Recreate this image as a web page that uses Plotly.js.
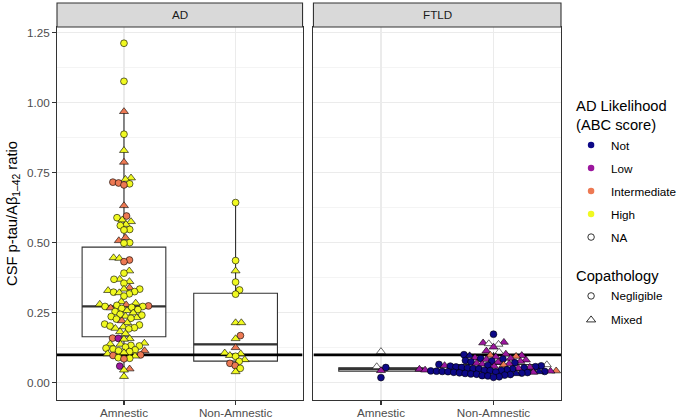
<!DOCTYPE html>
<html>
<head>
<meta charset="utf-8">
<script src="https://cdn.plot.ly/plotly-3.0.1.min.js"></script>
<style>html,body{margin:0;padding:0;background:#fff;}</style>
</head>
<body>
<div id="chart" style="width:684px;height:419px;"></div>
<script>
// ---------- data ----------
const panels = ['AD', 'FTLD'];
const categories = ['Amnestic', 'Non-Amnestic'];
const abcCodes = ['N', 'L', 'I', 'H', 'X'];
const abcLabels = ['Not', 'Low', 'Intermediate', 'High', 'NA'];
const abcColors = ['#0D0887', '#9C179E', '#ED7953', '#F0F921', '#FFFFFF'];
const copathCodes = ['c', 't'];
const copathLabels = ['Negligible', 'Mixed'];
const copathSymbols = ['circle', 'triangle-up'];
const thresholdValue = [0.1];
const yTickVals = [0, 0.25, 0.5, 0.75, 1.0, 1.25];

// AD / Amnestic
const adAmnVal = [1.213,1.077,0.969,0.888,0.830,0.788,0.732,0.727,0.717,0.714,0.711,0.707,0.633,
 0.596,0.590,0.582,0.576,0.566,0.562,0.548,0.546,0.519,0.508,0.501,0.499,0.447,0.445,0.439,0.433,
 0.400,0.392,0.370,0.370,0.362,0.356,0.340,0.335,0.335,0.330,0.326,0.324,0.322,0.318,0.310,
 0.290,0.285,0.281,0.279,0.277,0.275,0.273,0.273,0.270,0.268,0.266,0.262,0.258,0.255,0.250,
 0.245,0.242,0.238,0.237,0.233,0.231,0.228,0.222,0.215,0.210,0.207,0.203,0.200,0.197,0.195,0.193,
 0.183,0.176,0.160,0.159,0.158,0.156,0.142,0.139,0.138,0.134,0.132,0.128,0.124,0.121,0.118,0.115,
 0.115,0.112,0.108,0.104,0.100,0.098,0.096,0.090,0.088,0.086,0.060,0.050,0.046,0.023];
const adAmnAbc = ['H','H','I','H','H','I','H','H','I','I','H','I','I',
 'I','H','H','H','H','H','H','H','I','I','H','H','H','H','I','I',
 'H','H','H','H','H','H','I','H','H','H','H','H','H','H','H',
 'H','H','H','I','H','I','H','H','H','I','H','H','H','H','H',
 'H','H','H','H','H','H','H','I','H','H','H','H','H','H','H','H',
 'H','H','I','L','H','H','H','H','H','H','H','H','H','H','H','H',
 'I','H','H','H','I','I','H','H','H','I','L','I','H','H'];
const adAmnCop = ['c','c','t','c','t','t','t','t','c','c','c','c','t',
 'c','c','t','t','t','c','c','c','t','t','c','c','t','t','c','c',
 't','c','t','c','t','c','t','t','c','t','c','c','t','c','c',
 't','t','t','t','c','c','c','c','c','t','c','c','t','c','t',
 'c','c','t','c','t','c','c','t','t','c','c','c','t','c','t','c',
 't','t','c','c','t','t','t','t','t','c','c','c','c','c','c','c',
 't','c','t','t','c','c','t','c','c','c','c','t','t','t'];

// AD / Non-Amnestic
const adNonVal = [0.644,0.437,0.400,0.360,0.332,0.317,0.215,0.215,0.169,0.158,0.126,0.107,0.104,
 0.098,0.095,0.083,0.077,0.070,0.062,0.052,0.040];
const adNonAbc = ['H','H','H','H','H','H','H','H','I','H','I','H','H','H','H','H','H','I','I','H','H'];
const adNonCop = ['c','c','t','c','c','c','t','t','c','t','t','t','t','t','c','t','c','c','c','c','t'];

// FTLD / Amnestic
const ftAmnVal = [0.112,0.058,0.055,0.044,0.019];
const ftAmnAbc = ['X','X','N','L','N'];
const ftAmnCop = ['t','t','c','t','c'];

// FTLD / Non-Amnestic
const ftNonVal = [0.174,0.145,0.143,0.140,0.138,0.128,0.114,0.110,0.103,0.101,0.099,0.098,0.097,0.095,
 0.093,0.090,0.088,0.087,0.085,0.084,0.082,0.080,0.078,0.077,0.075,0.074,0.072,0.070,0.068,0.067,
 0.066,0.065,0.064,0.063,0.062,0.061,0.060,0.059,0.058,0.057,0.056,0.055,0.054,0.053,0.052,0.051,
 0.050,0.050,0.049,0.048,0.047,0.047,0.046,0.045,0.045,0.044,0.043,0.043,0.042,0.042,0.041,0.041,
 0.040,0.040,0.039,0.038,0.038,0.037,0.036,0.035,0.034,0.033,0.032,0.031,0.030,0.028,0.026,0.025,
 0.022,0.020];
const ftNonAbc = ['N','L','L','X','X','L','L','X','L','N','I','L','N','I',
 'L','L','L','N','N','L','L','N','N','L','N','L','N','L','L','L',
 'N','X','I','N','L','N','N','L','N','N','L','N','N','N','L','N',
 'N','N','L','N','N','N','L','N','N','N','N','I','N','L','N','N',
 'N','N','N','N','L','N','N','N','N','N','N','N','N','N','N','N',
 'N','N'];
const ftNonCop = ['c','t','t','t','t','t','t','t','t','c','t','t','t','t',
 't','t','t','c','c','t','t','c','c','t','c','t','c','t','t','t',
 'c','t','t','c','t','c','c','t','c','c','t','c','c','c','t','c',
 'c','c','t','c','c','c','t','c','c','c','c','t','c','t','c','c',
 'c','t','c','c','t','c','c','c','c','t','c','c','c','c','c','c',
 'c','c'];

// box statistics per panel/category (AD-Amn, AD-Non, FTLD-Amn, FTLD-Non)
const boxPanel = ['AD', 'AD', 'FTLD', 'FTLD'];
const boxCat = ['Amnestic', 'Non-Amnestic', 'Amnestic', 'Non-Amnestic'];
const boxQ1 = [0.165, 0.078, 0.042, 0.035];
const boxMedian = [0.273, 0.138, 0.050, 0.046];
const boxQ3 = [0.485, 0.320, 0.054, 0.066];
const boxLower = [0.023, 0.040, 0.044, 0.020];
const boxUpper = [0.969, 0.644, 0.058, 0.110];

// ---------- layout constants ----------
const W = 684, H = 419;
const M = {l: 57, r: 118, t: 3, b: 19};
const plotW = W - M.l - M.r, plotH = H - M.t - M.b;
const xDom = [[0, 0.4872], [0.5088, 1]];
const yDom = [0, 0.93955];
const yRange = [-0.061, 1.271];
const xRange = [0.4, 2.6];
const pxPerY = (yDom[1] - yDom[0]) * plotH / (yRange[1] - yRange[0]);
const pxPerX = xDom.map(d => (d[1] - d[0]) * plotW / (xRange[1] - xRange[0]));

// beeswarm offsets (computed in pixel space)
function swarm(vals, xc, ppx, ppy, d) {
  const idx = vals.map((v, i) => i).sort((a, b) => vals[a] - vals[b]);
  const placed = [];
  const out = new Array(vals.length);
  for (const i of idx) {
    const yp = vals[i] * ppy;
    const cands = [0];
    for (const p of placed) {
      const dy = yp - p.yp;
      if (Math.abs(dy) < d) {
        const dx = Math.sqrt(d * d - dy * dy);
        cands.push(p.xp + dx, p.xp - dx);
      }
    }
    cands.sort((a, b) => Math.abs(a) - Math.abs(b));
    let chosen = 0;
    for (const c of cands) {
      let ok = true;
      for (const p of placed) {
        const dx = c - p.xp, dy = yp - p.yp;
        if (dx * dx + dy * dy < d * d - 1e-6) { ok = false; break; }
      }
      if (ok) { chosen = c; break; }
    }
    placed.push({xp: chosen, yp: yp});
    out[i] = xc + chosen / ppx;
  }
  return out;
}

const groups = [
  {panel: 0, cat: 0, v: adAmnVal, a: adAmnAbc, c: adAmnCop},
  {panel: 0, cat: 1, v: adNonVal, a: adNonAbc, c: adNonCop},
  {panel: 1, cat: 0, v: ftAmnVal, a: ftAmnAbc, c: ftAmnCop},
  {panel: 1, cat: 1, v: ftNonVal, a: ftNonAbc, c: ftNonCop}
];

const traces = [];
const axX = ['x', 'x2'], axY = ['y', 'y2'];

// boxes
for (let k = 0; k < boxQ1.length; k++) {
  const p = panels.indexOf(boxPanel[k]);
  const xc = categories.indexOf(boxCat[k]) + 1;
  traces.push({
    type: 'box', x: [xc], q1: [boxQ1[k]], median: [boxMedian[k]], q3: [boxQ3[k]],
    lowerfence: [boxLower[k]], upperfence: [boxUpper[k]],
    xaxis: axX[p], yaxis: axY[p], width: 0.75, whiskerwidth: 0,
    fillcolor: '#FFFFFF', line: {color: '#333333', width: 1.1},
    boxpoints: false, showlegend: false, hoverinfo: 'skip'
  });
  // thicker median segment
  traces.push({
    type: 'box', x: [xc], q1: [boxMedian[k]], median: [boxMedian[k]], q3: [boxMedian[k]],
    lowerfence: [boxMedian[k]], upperfence: [boxMedian[k]],
    xaxis: axX[p], yaxis: axY[p], width: 0.75, whiskerwidth: 0,
    fillcolor: 'rgba(0,0,0,0)', line: {color: '#333333', width: 2.2},
    boxpoints: false, showlegend: false, hoverinfo: 'skip'
  });
}

// reference line
for (let p = 0; p < panels.length; p++) {
  traces.push({
    type: 'scatter', mode: 'lines', x: xRange, y: [thresholdValue[0], thresholdValue[0]],
    xaxis: axX[p], yaxis: axY[p], line: {color: '#000000', width: 2.6},
    showlegend: false, hoverinfo: 'skip', cliponaxis: true
  });
}

// points
for (const g of groups) {
  const xs = swarm(g.v, g.cat + 1, pxPerX[g.panel], pxPerY, 5.8);
  traces.push({
    type: 'scatter', mode: 'markers', x: xs, y: g.v,
    xaxis: axX[g.panel], yaxis: axY[g.panel],
    marker: {
      color: g.a.map(a => abcColors[abcCodes.indexOf(a)]),
      symbol: g.c.map(c => copathSymbols[copathCodes.indexOf(c)]),
      size: g.c.map(c => c === 't' ? 7.8 : 6.8),
      opacity: 1,
      line: {color: '#000000', width: 0.6}
    },
    showlegend: false, hoverinfo: 'skip', cliponaxis: false
  });
}

// legend entries
abcLabels.forEach((lab, i) => {
  const t = {
    type: 'scatter', mode: 'markers', x: [null], y: [null], name: lab,
    legend: 'legend', legendgroup: 'abc' + i,
    marker: {color: abcColors[i], symbol: 'circle', size: 6.5, opacity: 1,
      line: {color: '#000000', width: i === 4 ? 0.8 : 0}},
    showlegend: true, hoverinfo: 'skip'
  };
  if (i === 0) t.legendgrouptitle = {text: 'AD Likelihood<br>(ABC score)', font: {size: 14.7, color: '#000000'}};
  traces.push(t);
});
copathLabels.forEach((lab, i) => {
  const t = {
    type: 'scatter', mode: 'markers', x: [null], y: [null], name: lab,
    legend: 'legend2', legendgroup: 'cop' + i,
    marker: {color: '#FFFFFF', symbol: copathSymbols[i], size: i ? 8 : 6.5, opacity: 1,
      line: {color: '#000000', width: 0.8}},
    showlegend: true, hoverinfo: 'skip'
  };
  if (i === 0) t.legendgrouptitle = {text: 'Copathology', font: {size: 14.7, color: '#000000'}};
  traces.push(t);
});

const fontFam = 'Liberation Sans, Arial, sans-serif';
const xBase = {
  range: xRange, tickvals: [1, 2], ticktext: categories,
  showgrid: true, gridcolor: '#EBEBEB', gridwidth: 1.1, zeroline: false,
  showline: true, mirror: true, linecolor: '#333333', linewidth: 1.1,
  ticks: 'outside', ticklen: 3.7, tickcolor: '#333333', tickwidth: 1.1,
  ticklabelstandoff: -2,
  tickfont: {size: 11.7, color: '#4D4D4D'}, fixedrange: true
};
const yBase = {
  range: yRange, domain: yDom, tickvals: yTickVals, tickformat: '.2f',
  showgrid: true, gridcolor: '#EBEBEB', gridwidth: 1.1, zeroline: false,
  minor: {dtick: 0.125, tick0: 0, showgrid: true, gridcolor: '#EBEBEB', gridwidth: 0.55, ticks: ''},
  showline: true, mirror: true, linecolor: '#333333', linewidth: 1.1,
  tickfont: {size: 11.7, color: '#4D4D4D'}, fixedrange: true
};

const shapes = [], annotations = [];
panels.forEach((p, i) => {
  shapes.push({
    type: 'rect', xref: axX[i] + ' domain', yref: 'paper',
    x0: 0, x1: 1, y0: yDom[1], y1: 1,
    fillcolor: '#D9D9D9', line: {color: '#333333', width: 1.1}, layer: 'above'
  });
  annotations.push({
    text: p, xref: axX[i] + ' domain', yref: 'paper', x: 0.5, y: (yDom[1] + 1) / 2,
    showarrow: false, xanchor: 'center', yanchor: 'middle',
    font: {size: 11.7, color: '#1A1A1A'}
  });
});

const legendBase = {
  xanchor: 'left', yanchor: 'top',
  traceorder: 'grouped',
  font: {size: 11.7, color: '#000000'}, bgcolor: 'rgba(0,0,0,0)', borderwidth: 0,
  itemwidth: 30
};

const layout = {
  width: W, height: H, margin: M,
  paper_bgcolor: '#FFFFFF', plot_bgcolor: '#FFFFFF',
  font: {family: fontFam, color: '#000000'},
  showlegend: true,
  xaxis: Object.assign({}, xBase, {domain: xDom[0], anchor: 'y'}),
  xaxis2: Object.assign({}, xBase, {domain: xDom[1], anchor: 'y2'}),
  yaxis: Object.assign({}, yBase, {anchor: 'x', ticks: 'outside', ticklen: 3.7, tickcolor: '#333333', tickwidth: 1.1,
    title: {text: 'CSF p-tau/Aβ<sub>1–42</sub> ratio', font: {size: 14.7, color: '#000000'}, standoff: 6}}),
  yaxis2: Object.assign({}, yBase, {anchor: 'x2', matches: 'y', showticklabels: false, ticks: ''}),
  legend: Object.assign({}, legendBase, {x: 1.02, y: 0.7825, tracegroupgap: 4}),
  legend2: Object.assign({}, legendBase, {x: 1.02, y: 0.3544, tracegroupgap: 5}),
  shapes: shapes, annotations: annotations
};

Plotly.newPlot('chart', traces, layout, {staticPlot: true, displayModeBar: false});
</script>
</body>
</html>
